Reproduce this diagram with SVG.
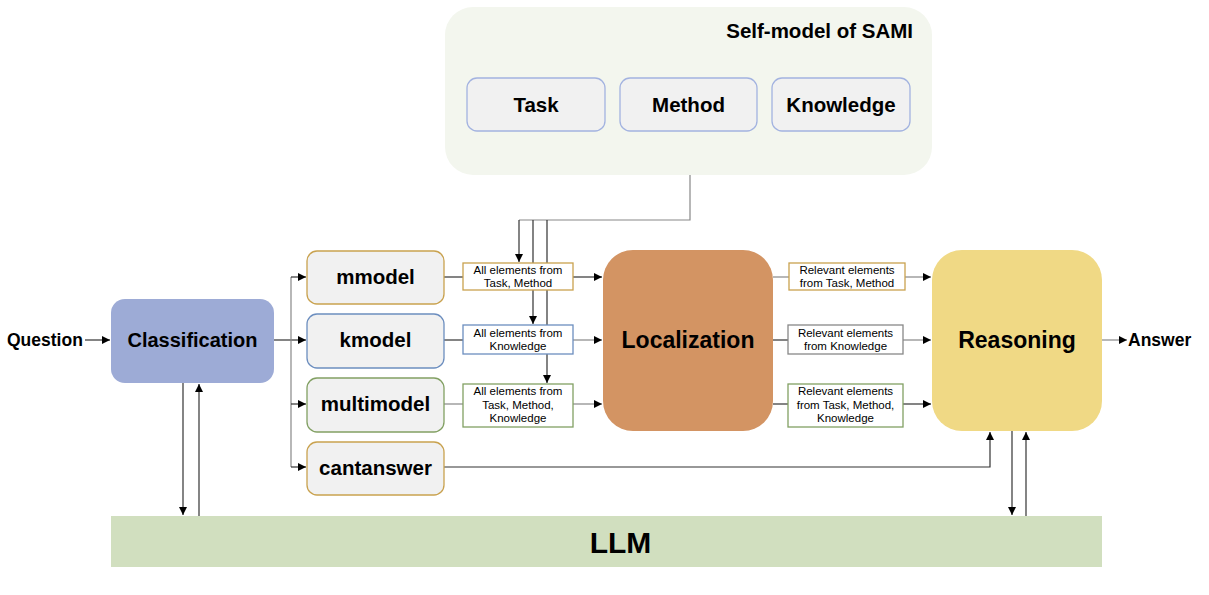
<svg xmlns="http://www.w3.org/2000/svg" width="1209" height="595" viewBox="0 0 1209 595">
<defs>
<marker id="ah" viewBox="0 0 10 10" refX="10" refY="5" markerWidth="8" markerHeight="8" markerUnits="userSpaceOnUse" orient="auto">
<path d="M0,0 L10,5 L0,10 z" fill="#000"/>
</marker>
</defs>
<style>
text{font-family:"Liberation Sans",Arial,sans-serif;fill:#000}
.b{font-weight:bold;text-anchor:middle}
.s{font-size:11.5px;text-anchor:middle}
.c{fill:none;stroke:#333;stroke-width:1.2}
.g{fill:none;stroke:#888;stroke-width:1.2}
.mb{fill:#f1f1f1;stroke-width:1.3}
.lb{fill:#fff;stroke-width:1.3}
</style>
<rect width="1209" height="595" fill="#fff"/>
<g id="selfmodel">
<rect x="445" y="7" width="487" height="168" rx="28" fill="#f3f6ee"/>
<text x="913" y="38" font-size="20.5" font-weight="bold" text-anchor="end">Self-model of SAMI</text>
</g>
<g id="task"><rect x="467" y="78" width="138" height="53" rx="10" fill="#f1f1f1" stroke="#a3b3e0" stroke-width="1.3"/><text class="b" x="536" y="111.5" font-size="20.5">Task</text></g>
<g id="method"><rect x="620" y="78" width="137" height="53" rx="10" fill="#f1f1f1" stroke="#a3b3e0" stroke-width="1.3"/><text class="b" x="688.5" y="111.5" font-size="20.5">Method</text></g>
<g id="knowledge"><rect x="772" y="78" width="138" height="53" rx="10" fill="#f1f1f1" stroke="#a3b3e0" stroke-width="1.3"/><text class="b" x="841" y="111.5" font-size="20.5">Knowledge</text></g>

<g id="connectors">
<path class="g" d="M690,175 V220 H519"/>
<path class="c" d="M519,220 V262" marker-end="url(#ah)"/>
<path class="c" d="M533,220 V263 M533,290 V324" marker-end="url(#ah)"/>
<path class="c" d="M547,220 V325 M547,354 V383" marker-end="url(#ah)"/>
<path class="c" d="M85,340 H110" marker-end="url(#ah)"/>
<path class="c" d="M274,340 H306" marker-end="url(#ah)"/>
<path class="g" d="M291,277 V467"/>
<path class="c" d="M291,277 H306" marker-end="url(#ah)"/>
<path class="c" d="M291,404 H306" marker-end="url(#ah)"/>
<path class="c" d="M291,467 H306" marker-end="url(#ah)"/>
<path class="c" d="M183,383 V515" marker-end="url(#ah)"/>
<path class="c" d="M199,516 V384" marker-end="url(#ah)"/>
<path class="c" d="M444,277 H463"/>
<path class="c" d="M444,340 H463"/>
<path class="g" d="M444,404 H463"/>
<path class="c" d="M573,277 H602" marker-end="url(#ah)"/>
<path class="g" d="M573,340 H602" marker-end="url(#ah)"/>
<path class="g" d="M573,404 H602" marker-end="url(#ah)"/>
<path class="g" d="M773,277 H789"/>
<path class="c" d="M773,340 H788"/>
<path class="c" d="M773,404 H788"/>
<path class="g" d="M905,277 H931" marker-end="url(#ah)"/>
<path class="g" d="M903,340 H931" marker-end="url(#ah)"/>
<path class="c" d="M903,404 H931" marker-end="url(#ah)"/>
<path class="c" d="M444,467 H990 V432" stroke="#555" marker-end="url(#ah)"/>
<path class="c" d="M1012,431 V515" marker-end="url(#ah)"/>
<path class="c" d="M1026,516 V432" marker-end="url(#ah)"/>
<path class="g" d="M1102,340 H1127" marker-end="url(#ah)"/>
</g>

<g id="question"><text x="7" y="346" font-size="17.5" font-weight="bold">Question</text></g>
<g id="classification"><rect x="111" y="299" width="163" height="84" rx="14" fill="#9dabd6"/><text class="b" x="192.5" y="347" font-size="20">Classification</text></g>

<g id="mmodel"><rect class="mb" x="307" y="251" width="137" height="53" rx="10" stroke="#c9a24f"/><text class="b" x="375.5" y="284" font-size="20.5">mmodel</text></g>
<g id="kmodel"><rect class="mb" x="307" y="314" width="137" height="54" rx="10" stroke="#6c8ebf"/><text class="b" x="375.5" y="347" font-size="20.5">kmodel</text></g>
<g id="multimodel"><rect class="mb" x="307" y="378" width="137" height="54" rx="10" stroke="#82a063"/><text class="b" x="375.5" y="411" font-size="20.5">multimodel</text></g>
<g id="cantanswer"><rect class="mb" x="307" y="442" width="137" height="53" rx="10" stroke="#c9a24f"/><text class="b" x="375.5" y="475" font-size="20.5">cantanswer</text></g>

<g id="lab1"><rect class="lb" x="463" y="263" width="110" height="27" stroke="#c9a24f"/><text class="s" x="518" y="274">All elements from</text><text class="s" x="518" y="287">Task, Method</text></g>
<g id="lab2"><rect class="lb" x="463" y="325" width="110" height="29" stroke="#6c8ebf"/><text class="s" x="518" y="337">All elements from</text><text class="s" x="518" y="350">Knowledge</text></g>
<g id="lab3"><rect class="lb" x="463" y="384" width="110" height="43" stroke="#82a063"/><text class="s" x="518" y="395">All elements from</text><text class="s" x="518" y="408.5">Task, Method,</text><text class="s" x="518" y="422">Knowledge</text></g>

<g id="localization"><rect x="603" y="250" width="170" height="181" rx="30" fill="#d39463"/><text class="b" x="688" y="348" font-size="23">Localization</text></g>

<g id="rel1"><rect class="lb" x="789" y="263" width="116" height="27" stroke="#c9a24f"/><text class="s" x="847" y="274">Relevant elements</text><text class="s" x="847" y="287">from Task, Method</text></g>
<g id="rel2"><rect class="lb" x="788" y="325" width="115" height="29" stroke="#888"/><text class="s" x="845.5" y="337">Relevant elements</text><text class="s" x="845.5" y="350">from Knowledge</text></g>
<g id="rel3"><rect class="lb" x="788" y="384" width="115" height="43" stroke="#82a063"/><text class="s" x="845.5" y="395">Relevant elements</text><text class="s" x="845.5" y="408.5">from Task, Method,</text><text class="s" x="845.5" y="422">Knowledge</text></g>

<g id="reasoning"><rect x="932" y="250" width="170" height="181" rx="30" fill="#f0d985"/><text class="b" x="1017" y="348" font-size="23">Reasoning</text></g>
<g id="answer"><text x="1128" y="346" font-size="17.5" font-weight="bold">Answer</text></g>

<g id="llm"><rect x="111" y="516" width="991" height="51" fill="#d1dfbf"/><text class="b" x="620.5" y="553" font-size="30">LLM</text></g>
</svg>
